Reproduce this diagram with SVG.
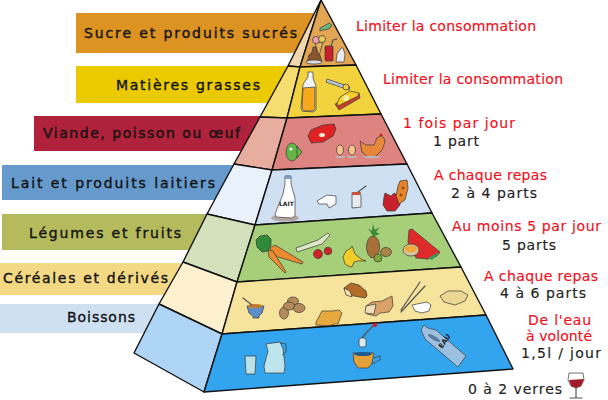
<svg xmlns="http://www.w3.org/2000/svg" width="608" height="400" viewBox="0 0 608 400">
<style>
text{font-family:"DejaVu Sans","Liberation Sans",sans-serif;font-size:14px}
.l{fill:#111;stroke:#111;stroke-width:.35}
.r{fill:#f01020;stroke:#f01020;stroke-width:.15}
.b{fill:#222;stroke:#222;stroke-width:.15}
.e{stroke:#111;stroke-width:1.4;stroke-linejoin:round}
.i{stroke:#3a3a3a;stroke-width:.7;stroke-linejoin:round}
.s{fill:none;stroke:#555;stroke-width:1.2;stroke-linecap:round}
</style>
<rect width="608" height="400" fill="#fff"/>
<g id="bars">
<rect x="76" y="13" width="244" height="40" fill="#dc9321"/>
<rect x="76" y="66" width="230" height="37" fill="#ebcb00"/>
<rect x="34" y="116" width="240" height="35" fill="#b0213c"/>
<rect x="2" y="165" width="240" height="35" fill="#6699cc"/>
<rect x="2" y="214" width="220" height="36" fill="#b5ba5d"/>
<rect x="0" y="263" width="195" height="32" fill="#f4d984"/>
<rect x="0" y="304" width="170" height="29" fill="#cfe0f3"/>
</g>
<g id="tier-sucre">
<path class="e" d="M321 0L288 66L300 67Z" fill="#f0d6ae"/>
<path class="e" d="M321 0L300 67L356 65Z" fill="#e2a552"/>
<path class="i" d="M320 28l4-2 5-3 3 2-3 4-6 1-3 1z" fill="#6cb37e"/>
<path class="i" d="M319 56l-4-13 8-1z" fill="#e0b060"/>
<circle class="i" cx="316" cy="40" r="3.5" fill="#ef9fb0"/>
<circle class="i" cx="322" cy="39" r="3.5" fill="#e8c95a"/>
<path class="i" d="M307 62l2-7 3-3 1-5 3 0 1 5 3 3 2 7z" fill="#8a5530"/>
<ellipse class="i" cx="314" cy="62" rx="8" ry="2" fill="#ddd"/>
<rect class="i" x="325" y="46" width="8" height="15" rx="1" fill="#c8202c"/>
<path class="s" d="M331 46l2-6 4-1"/>
<path class="i" d="M336 62l1-8 4-6 2 0 2 6-1 8z" fill="#e6e9ee"/>
</g>
<g id="tier-matieres">
<path class="e" d="M288 66L300 67L287 118L260 117Z" fill="#f6dd6f"/>
<path class="e" d="M300 67L356 65L381 114L287 118Z" fill="#f2d23d"/>
<path class="i" d="M308 72l5 0 0 6 3 8 0 24-3 2-11-1-1-3 2-24 5-7z" fill="#f1f3f2"/>
<path class="i" d="M303 88l12-1 0 22-2 2-9 0-2-3z" fill="#f5a81c"/>
<path class="i" d="M327 79l23 8-1 3-23-8z" fill="#b8c8e0"/>
<circle class="i" cx="346" cy="87" r="3" fill="#f3d040"/>
<path class="i" d="M335 104l24-11 1 5-21 12z" fill="#c8402c"/>
<path class="i" d="M337 103l3-6 10-6 9 2-1 3-20 10z" fill="#f5cc2a"/>
<circle cx="346" cy="98" r="3" fill="#fdf0a0"/>
</g>
<g id="tier-viande">
<path class="e" d="M260 117L287 118L272 170L234 164Z" fill="#e7ad9f"/>
<path class="e" d="M287 118L381 114L407 164L272 170Z" fill="#dd8480"/>
<ellipse class="i" cx="292" cy="152" rx="6" ry="9" fill="#63b548"/>
<path class="i" d="M297 146l5 6-5 6z" fill="#63b548"/>
<circle cx="291" cy="149" r="1.5" fill="#fff"/>
<path class="i" d="M308 136l3-6 12-5 11-1 2 5-3 7-10 6-12 1z" fill="#e02222"/>
<ellipse cx="322" cy="135" rx="3" ry="2" fill="#fbe8d0"/>
<ellipse class="i" cx="340" cy="150" rx="3.5" ry="5" fill="#f4c28a"/>
<ellipse class="i" cx="352" cy="150" rx="3.5" ry="5" fill="#f4c28a"/>
<path class="i" d="M360 141l6 4 8 0 3-7 4-2 3 2 1 4-3 8-6 6-8 1-6-5z" fill="#e8873a"/>
<path d="M379 136l2-3 2 3z" fill="#d02020"/>
<ellipse cx="372" cy="157" rx="9" ry="1.2" fill="#bbb"/>
<ellipse cx="340" cy="157" rx="5" ry="1" fill="#bbb"/>
<ellipse cx="352" cy="157" rx="5" ry="1" fill="#bbb"/>
</g>
<g id="tier-lait">
<path class="e" d="M234 164L272 170L255 225L207 214Z" fill="#e9f1fa"/>
<path class="e" d="M272 170L407 164L432 213L255 225Z" fill="#cfe0f3"/>
<ellipse cx="285" cy="218" rx="14" ry="3.5" fill="#b5a6a6"/>
<path class="i" d="M285 176l6 0 0 8 4 14 0 18-3 2-16-1-1-3 8-20 2-10z" fill="#fff"/>
<rect x="285" y="175" width="6" height="4" fill="#7e9cc0"/>
<text x="279" y="206" style="font-size:6px;font-weight:bold;stroke:none" fill="#222">LAIT</text>
<path class="i" d="M317 201l10-6 9 1 0 8-7 4-2-4-8 0z" fill="#fafafa"/>
<path class="i" d="M352 193l8-1 1 4 0 11-9 1z" fill="#e8ecef"/>
<rect x="352" y="192" width="8" height="3" fill="#d0503c"/>
<path class="s" d="M358 192l8-6"/>
<path class="i" d="M385 193l6 3 3-3 5 3 1 9-5 6-8 0-4-6 1-8z" fill="#c8202c"/>
<path class="i" d="M400 181l7-1 1 8-3 12-6 4-3-8 2-10z" fill="#e8832a"/>
<circle cx="403" cy="188" r="1.4" fill="#8a4a10"/>
<circle cx="401" cy="195" r="1.4" fill="#8a4a10"/>
</g>
<g id="tier-legumes">
<path class="e" d="M207 214L255 225L237 282L183 262Z" fill="#d3e2bc"/>
<path class="e" d="M255 225L432 213L461 267L237 282Z" fill="#a7cf79"/>
<path class="i" d="M270 248l5-3 28 17-1 2-24-7-6-4z" fill="#ee8a2e"/>
<path class="i" d="M268 250l5 1 13 21-1 1-16-16z" fill="#ee8a2e"/>
<path class="i" d="M256 240l4-4 7-1 4 4 0 6-3 6-6 1-5-5z" fill="#2f8a3a"/>
<path class="i" d="M296 248l22-8 10-7 2 2-8 9-25 8z" fill="#dfe8c8"/>
<circle class="i" cx="318" cy="254" r="4.5" fill="#d0202a"/>
<circle class="i" cx="328" cy="251" r="3.8" fill="#d0202a"/>
<path class="i" d="M345 264l-2-7 3-6 5-3 1-2 3 8 6 5 5 2-8 0-4 1-2 5-4-1z" fill="#f2cd2a"/>
<ellipse class="i" cx="373" cy="247" rx="6.5" ry="11" fill="#a9713a"/>
<path d="M373 236l-5-8 4 3 1-7 2 6 5-3-4 5 4 2-6 2z" fill="#3a8a3a"/>
<circle class="i" cx="378" cy="258" r="4" fill="#7fa83a"/>
<ellipse class="i" cx="386" cy="252" rx="5.5" ry="4.5" fill="#a58646"/>
<path class="i" d="M409 230l3-1 28 23-3 4-9 3-12-1-8-16z" fill="#e02a2a"/>
<path d="M428 258l9-5 2 1-7 6z" fill="#3a9a5a"/>
<ellipse class="i" cx="411" cy="250" rx="8" ry="6" fill="#d6c8a0"/>
<ellipse cx="411" cy="249" rx="6.5" ry="3.5" fill="#f1a83a"/>
</g>
<g id="tier-cereales">
<path class="e" d="M183 262L237 282L222 334L159 304Z" fill="#fdf0cf"/>
<path class="e" d="M237 282L461 267L486 315L222 334Z" fill="#f6e39c"/>
<path class="i" d="M247 306l17 0-2 7-3 3 0 2-6 0 0-2-4-3z" fill="#5f8fca"/>
<ellipse cx="255" cy="306" rx="7.5" ry="2" fill="#c5782a"/>
<path class="s" d="M243 298l9 7"/>
<ellipse class="i" cx="284" cy="313" rx="4.5" ry="6" fill="#b58a5a"/>
<ellipse class="i" cx="293" cy="301" rx="5.5" ry="4" fill="#b58a5a"/>
<ellipse class="i" cx="299" cy="308" rx="6" ry="4.5" fill="#b58a5a"/>
<ellipse class="i" cx="289" cy="306" rx="5.5" ry="4" fill="#b58a5a"/>
<path class="i" d="M322 311l10 0 7-1 3 3-3 8-1 3-4 0-4 2-14-1 0-3z" fill="#e7a83e"/>
<path class="i" d="M344 288l7-5 8 2 7 6 1 5-2 2-11-2-8-3z" fill="#b46a28"/>
<path class="i" d="M344 288l6 3 2 6-6-2z" fill="#f4e0b0"/>
<path class="i" d="M366 306l6-4 10-1 10-5 1 10-4 6-9 1-4 3-9-2z" fill="#d8a268"/>
<path class="i" d="M366 306l10-2-2 10-9-1z" fill="#f2dfbc"/>
<path class="s" d="M401 310l19-28M401 312l24-26"/>
<path class="i" d="M412 305l15-3 4 3-2 6-7 2-7-2z" fill="#fff"/>
<path class="i" d="M440 296l8-5 13 0 7 4-3 6-10 4-11-3z" fill="#ecd794"/>
</g>
<g id="tier-boissons">
<path class="e" d="M159 304L222 334L204 392L134 353Z" fill="#aed4f6"/>
<path class="e" d="M222 334L486 315L513 369L204 392Z" fill="#33a4ee"/>
<path class="i" d="M245 356l11 0-1 18-9 0z" fill="#b9e2ea"/>
<path class="i" d="M266 344l14-2 3 7 2 17-1 7-19 0-1-7 4-15z" fill="#bfe5ec"/>
<path class="i" d="M280 343l6 1 0 8-4 3" fill="none"/>
<path class="s" d="M362 338l5-6 6-6"/>
<circle cx="375" cy="325" r="2.2" fill="#c8202c"/>
<rect class="i" x="359" y="338" width="7" height="9" rx="2" fill="#d8e8ee"/>
<path class="i" d="M353 353l21 0-2 10-4 5-10 0-4-6z" fill="#e6a23a"/>
<ellipse cx="363" cy="354" rx="9" ry="2" fill="#1e5a90"/>
<path class="i" d="M374 358l6-2 0 4-8 4" fill="none"/>
<path class="i" d="M421 330l3-5 4 3 8 2 30 26-8 11-33-28z" fill="#9cc1e0"/>
<ellipse cx="434" cy="338" rx="7" ry="2" fill="#5a7a9a" transform="rotate(30 434 338)"/>
<text x="0" y="0" transform="translate(442 349) rotate(-55)" style="font-size:7px;font-weight:bold;stroke:none" fill="#222">EAU</text>
</g>
<g id="labels-left">
<text class="l" x="84" y="38" textLength="213">Sucre et produits sucrés</text>
<text class="l" x="116" y="90" textLength="144">Matières grasses</text>
<text class="l" x="43" y="138" textLength="197">Viande, poisson ou œuf</text>
<text class="l" x="11" y="188" textLength="204">Lait et produits laitiers</text>
<text class="l" x="29" y="238" textLength="152">Légumes et fruits</text>
<text class="l" x="3" y="283" textLength="165">Céréales et dérivés</text>
<text class="l" x="67" y="322" textLength="68">Boissons</text>
</g>
<g id="labels-right">
<text class="r" x="356" y="31" textLength="180">Limiter la consommation</text>
<text class="r" x="383" y="84" textLength="180">Limiter la consommation</text>
<text class="r" x="403" y="128" textLength="112">1 fois par jour</text>
<text class="b" x="433" y="146" textLength="46">1 part</text>
<text class="r" x="434" y="180" textLength="113">A chaque repas</text>
<text class="b" x="451" y="198" textLength="86">2 à 4 parts</text>
<text class="r" x="452" y="231" textLength="149">Au moins 5 par jour</text>
<text class="b" x="502" y="250" textLength="54">5 parts</text>
<text class="r" x="484" y="281" textLength="114">A chaque repas</text>
<text class="b" x="500" y="298" textLength="86">4 à 6 parts</text>
<text class="r" x="528" y="325" textLength="63">De l'eau</text>
<text class="r" x="526" y="341" textLength="66">à volonté</text>
<text class="b" x="521" y="358" textLength="80">1,5l / jour</text>
<text class="b" x="468" y="394" textLength="94">0 à 2 verres</text>
</g>
<g id="wine-glass">
<path class="i" d="M569 373l14 0 1 7-3 6-5 2-5-2-3-6z" fill="#fff" stroke-width="1"/>
<path d="M569 380l15-1-3 7-5 2-5-2z" fill="#a01c28"/>
<path class="s" d="M576 388l0 9M570 398l12 0"/>
</g>
</svg>
